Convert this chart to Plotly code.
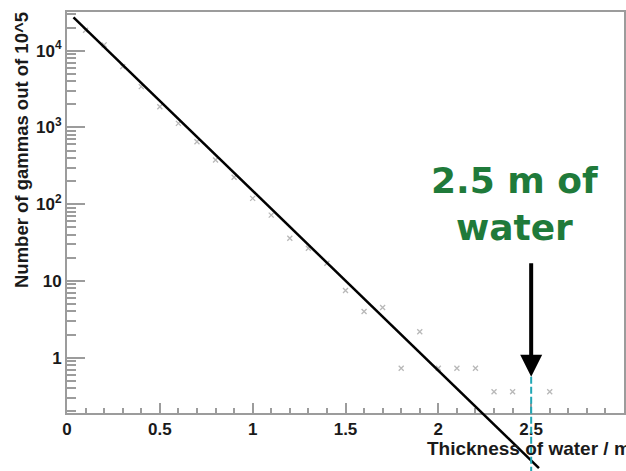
import math
import plotly.graph_objects as go

# ---- data ----
thickness = [0.1, 0.2, 0.3, 0.4, 0.5, 0.6, 0.7, 0.8, 0.9, 1.0, 1.1, 1.2, 1.3,
             1.4, 1.5, 1.6, 1.7, 1.8, 1.9, 2.0, 2.1, 2.2, 2.3, 2.4, 2.6]
gammas = [18500, 11900, 6200, 3400, 1860, 1130, 650, 377, 224, 119, 72, 36, 26.6,
          17, 7.5, 4.0, 4.5, 0.73, 2.18, 0.73, 0.73, 0.73, 0.36, 0.36, 0.36]

fit_x = [0.035, 2.542]
fit_y = [27200, 0.0365]

cut_x = [2.5, 2.5]
cut_y = [0.565, 0.033]

x_tickvals = [0, 0.5, 1, 1.5, 2, 2.5, 3]
x_ticktext = ["0", "0.5", "1", "1.5", "2", "2.5", "3"]
y_tickvals = [1, 10, 100, 1000, 10000]
y_ticktext = ["1", "10", "10<sup>2</sup>", "10<sup>3</sup>", "10<sup>4</sup>"]
y_minor = [k * 10 ** d for d in range(-1, 5) for k in range(2, 10)]

# ---- layout geometry ----
W, H = 626, 471
L, R, T, B = 67, 2, 12, 0
frame_bottom = 413
ph = H - T - B
dom_bottom = (H - B - frame_bottom) / ph

y_top = 4.504
y_bot = -0.7205
y2_bot = y_bot - (H - B - frame_bottom) * (y_top - y_bot) / (frame_bottom - T)

axis_col = "#9c9c9c"
font_fam = "Liberation Sans, Arial, sans-serif"

fig = go.Figure()

fig.add_trace(go.Scatter(
    x=thickness, y=gammas, mode="markers", xaxis="x", yaxis="y",
    marker=dict(symbol="x-thin", size=5, line=dict(width=1.3, color="#b8b8b8"),
                color="#b8b8b8"),
    showlegend=False, hoverinfo="skip"))

fig.add_trace(go.Scatter(
    x=fit_x, y=fit_y, mode="lines", xaxis="x", yaxis="y2",
    line=dict(color="black", width=2.5), showlegend=False, hoverinfo="skip"))

fig.add_trace(go.Scatter(
    x=cut_x, y=cut_y, mode="lines", xaxis="x", yaxis="y2",
    line=dict(color="#22a7b5", width=2, dash="7px,3px"),
    showlegend=False, hoverinfo="skip"))

fig.update_layout(
    width=W, height=H,
    margin=dict(l=L, r=R, t=T, b=B, pad=0),
    paper_bgcolor="white", plot_bgcolor="rgba(0,0,0,0)",
    font=dict(family=font_fam, color="#1a1a1a"),
    xaxis=dict(
        range=[0, 3], domain=[0, 1], anchor="y",
        tickvals=x_tickvals, ticktext=x_ticktext,
        ticks="inside", ticklen=10, tickwidth=1.5, tickcolor=axis_col,
        minor=dict(ticks="inside", ticklen=5, tickwidth=1.5, tickcolor=axis_col, dtick=0.1),
        showline=True, linecolor=axis_col, linewidth=2, mirror=True,
        showgrid=False, zeroline=False,
        tickfont=dict(size=17, family=font_fam, color="#1a1a1a", weight="bold"),
    ),
    yaxis=dict(
        type="log", range=[y_bot, y_top], domain=[dom_bottom, 1], anchor="x",
        tickvals=y_tickvals, ticktext=y_ticktext,
        ticks="inside", ticklen=18, tickwidth=1.5, tickcolor=axis_col,
        minor=dict(ticks="inside", ticklen=9, tickwidth=1.5, tickcolor=axis_col,
                   tickvals=y_minor),
        showline=True, linecolor=axis_col, linewidth=2, mirror=True,
        showgrid=False, zeroline=False,
        tickfont=dict(size=17, family=font_fam, color="#1a1a1a", weight="bold"),
    ),
    yaxis2=dict(
        type="log", range=[y2_bot, y_top], domain=[0, 1], anchor="x",
        visible=False, showgrid=False, zeroline=False,
    ),
)

def py(pix):
    return (H - B - pix) / ph

fig.add_annotation(
    x=2.5, y=math.log10(cut_y[0]), xref="x", yref="y",
    ax=0, ay=-115, text="", showarrow=True,
    arrowhead=2, arrowwidth=4, arrowsize=1.1, arrowcolor="black")

fig.add_annotation(
    x=2.408, y=2.0, xref="x", yref="y",
    text="2.5 m of<br>water", showarrow=False,
    font=dict(family="DejaVu Sans", size=36, color="#1f7a3a", weight="bold"),
    xanchor="center", yanchor="middle")

fig.add_annotation(
    x=(633 - L) / (W - L - R), y=py(448), xref="paper", yref="paper",
    text="Thickness of water / m", showarrow=False,
    font=dict(family=font_fam, size=19, color="#1a1a1a", weight="bold"),
    xanchor="right", yanchor="middle")

fig.add_annotation(
    x=(22 - L) / (W - L - R), y=py(10), xref="paper", yref="paper",
    text="Number of gammas out of 10^5", showarrow=False, textangle=-90,
    font=dict(family=font_fam, size=18.5, color="#1a1a1a", weight="bold"),
    xanchor="center", yanchor="top")

fig.write_html("out.html")
